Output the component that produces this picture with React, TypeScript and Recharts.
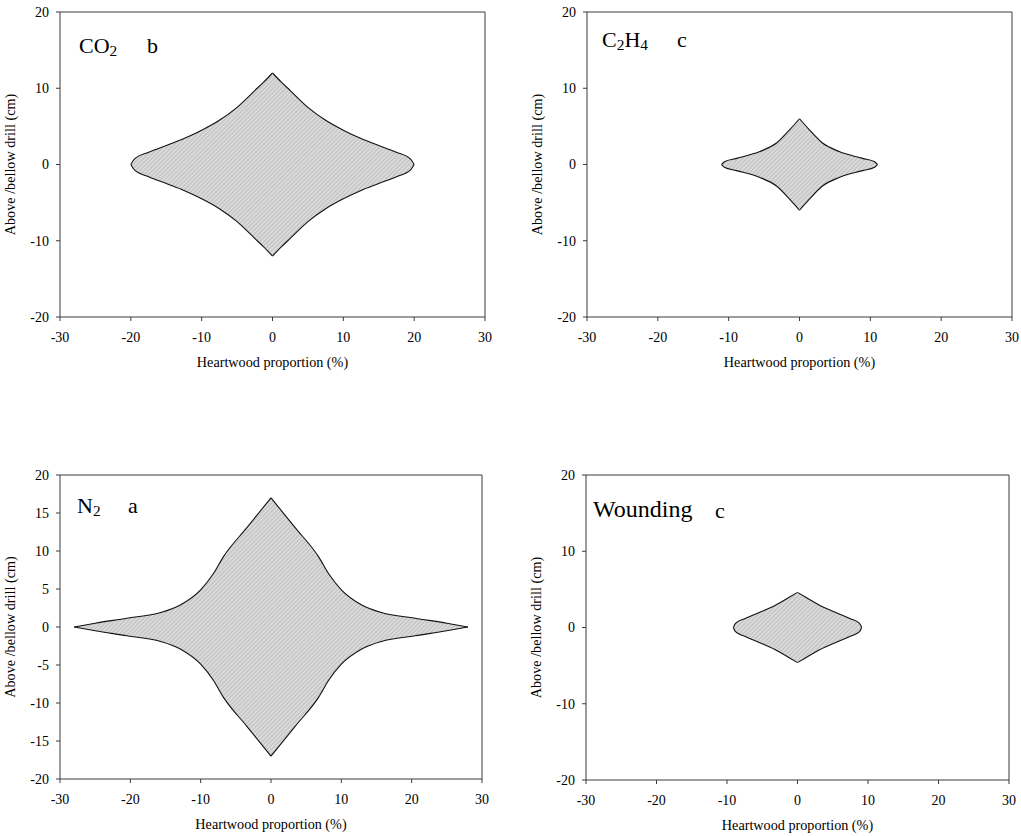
import { ComposedChart, Area, XAxis, YAxis, ReferenceLine } from 'recharts'

const xTicks = [-30, -20, -10, 0, 10, 20, 30]
const yTicks = [-20, -10, 0, 10, 20]
const yTicksN2 = [-20, -15, -10, -5, 0, 5, 10, 15, 20]
const xLabel = 'Heartwood proportion (%)'
const yLabel = 'Above /bellow drill (cm)'

const panelTitles = ['CO2', 'C2H4', 'N2', 'Wounding']
const panelLetters = ['b', 'c', 'a', 'c']

// heartwood proportion (%) and half height of the shaded zone (cm)
const co2X = [-20, -19.5, -17.5, -15, -12.5, -10, -7.5, -5, -2.5, -1.25, 0, 1.25, 2.5, 5, 7.5, 10, 12.5, 15, 17.5, 19.5, 20]
const co2H = [0, 0.7, 1.6, 2.5, 3.4, 4.5, 5.8, 7.5, 9.7, 10.8, 12, 10.8, 9.7, 7.5, 5.8, 4.5, 3.4, 2.5, 1.6, 0.7, 0]

const c2h4X = [-11, -10.6, -8.9, -5.6, -3.2, -1.3, 0, 1.3, 3.2, 5.6, 8.9, 10.6, 11]
const c2h4H = [0, 0.35, 0.8, 1.7, 2.85, 4.65, 6, 4.65, 2.85, 1.7, 0.8, 0.35, 0]

const n2X = [-28, -25, -20.5, -15.7, -12.9, -10, -8.2, -6.8, -3.4, 0, 3.4, 6.8, 8.2, 10, 12.9, 15.7, 20.5, 25, 28]
const n2H = [0, 0.5, 1.15, 1.9, 2.9, 4.9, 7.0, 9.2, 13.1, 17, 13.1, 9.2, 7.0, 4.9, 2.9, 1.9, 1.15, 0.5, 0]

const woundX = [-9.1, -8.8, -7.5, -5.6, -3.2, -1.3, 0, 1.3, 3.2, 5.6, 7.5, 8.8, 9.1]
const woundH = [0, 0.55, 1.15, 1.9, 2.9, 3.9, 4.6, 3.9, 2.9, 1.9, 1.15, 0.55, 0]

const FONT = "'Liberation Serif', 'Times New Roman', serif"
const AXIS = '#3a3a3a'

function halves(xs: number[], hs: number[]) {
  const rows = xs.map((x, i) => ({ x, band: [-hs[i], hs[i]] }))
  return [rows.filter(r => r.x <= 0), rows.filter(r => r.x >= 0)]
}

interface PanelProps {
  id: string
  xs: number[]
  hs: number[]
  ticksY: number[]
  left: number
  top: number
  width: number
  height: number
  margin: { top: number; right: number; bottom: number; left: number }
}

function Panel({ id, xs, hs, ticksY, left, top, width, height, margin }: PanelProps) {
  const [leftHalf, rightHalf] = halves(xs, hs)
  const peak = hs[xs.indexOf(0)]
  const tick = { fill: '#000', fontSize: 14, fontFamily: FONT }
  const hatch = `url(#hatch-${id})`
  return (
    <div style={{ position: 'absolute', left, top }}>
      <ComposedChart width={width} height={height} margin={margin}>
        <defs>
          <pattern id={`hatch-${id}`} width="3" height="3" patternUnits="userSpaceOnUse" patternTransform="rotate(45)">
            <rect width="3" height="3" fill="#dadada" />
            <line x1="0" y1="0" x2="0" y2="3" stroke="#a4a4a4" strokeWidth="1" />
          </pattern>
        </defs>
        <XAxis
          type="number" dataKey="x" domain={[-30, 30]} ticks={xTicks} interval={0}
          height={55} tickSize={4} tickMargin={11} tick={tick}
          axisLine={{ stroke: AXIS }} tickLine={{ stroke: AXIS }}
          label={{ value: xLabel, position: 'insideBottom', offset: 5, fill: '#000', fontSize: 14.2, fontFamily: FONT }}
        />
        <YAxis
          type="number" domain={[-20, 20]} ticks={ticksY} interval={0}
          width={60} tickSize={4} tickMargin={7} tick={tick}
          axisLine={{ stroke: AXIS }} tickLine={{ stroke: AXIS }}
          label={{ value: yLabel, angle: -90, position: 'insideLeft', offset: 10, fill: '#000', fontSize: 14.2, fontFamily: FONT, style: { textAnchor: 'middle' } }}
        />
        <ReferenceLine y={20} stroke={AXIS} />
        <ReferenceLine x={30} stroke={AXIS} />
        <ReferenceLine segment={[{ x: 0, y: -peak + 0.4 }, { x: 0, y: peak - 0.4 }]} stroke={hatch} strokeWidth={2} />
        <Area data={leftHalf} type="monotone" dataKey="band" stroke="#111" strokeWidth={1.1}
          fill={hatch} fillOpacity={1} dot={false} activeDot={false} isAnimationActive={false} />
        <Area data={rightHalf} type="monotone" dataKey="band" stroke="#111" strokeWidth={1.1}
          fill={hatch} fillOpacity={1} dot={false} activeDot={false} isAnimationActive={false} />
      </ComposedChart>
    </div>
  )
}

function Title({ x, y, text, size }: { x: number; y: number; text: string; size: number }) {
  const parts = text.match(/\d+|\D+/g) || []
  return (
    <text x={x} y={y} fontSize={size} fontFamily={FONT} fill="#000">
      {parts.map((p, i) =>
        /\d/.test(p)
          ? <tspan key={i} fontSize={size * 0.7} dy={3}>{p}</tspan>
          : <tspan key={i} dy={i > 0 ? -3 : 0}>{p}</tspan>
      )}
    </text>
  )
}

export default function App() {
  return (
    <div style={{ position: 'absolute', left: 0, top: 0, width: 1021, height: 836, background: '#fff', fontFamily: FONT }}>
      <Panel id="co2" xs={co2X} hs={co2H} ticksY={yTicks} left={0} top={0} width={510} height={400}
        margin={{ top: 12, right: 25, bottom: 28, left: 0 }} />
      <Panel id="c2h4" xs={c2h4X} hs={c2h4H} ticksY={yTicks} left={527} top={0} width={494} height={400}
        margin={{ top: 12, right: 9, bottom: 28, left: 0 }} />
      <Panel id="n2" xs={n2X} hs={n2H} ticksY={yTicksN2} left={0} top={460} width={510} height={376}
        margin={{ top: 15, right: 28, bottom: 2, left: 0 }} />
      <Panel id="wound" xs={woundX} hs={woundH} ticksY={yTicks} left={526} top={460} width={495} height={376}
        margin={{ top: 15, right: 12, bottom: 1, left: 0 }} />
      <svg width={1021} height={836} style={{ position: 'absolute', left: 0, top: 0, pointerEvents: 'none' }}>
        <Title x={79} y={53} text={panelTitles[0]} size={22} />
        <Title x={147} y={53} text={panelLetters[0]} size={22} />
        <Title x={602} y={47} text={panelTitles[1]} size={22} />
        <Title x={677} y={47} text={panelLetters[1]} size={22} />
        <Title x={77} y={513} text={panelTitles[2]} size={22} />
        <Title x={128} y={513} text={panelLetters[2]} size={22} />
        <Title x={593} y={517} text={panelTitles[3]} size={24} />
        <Title x={715} y={518} text={panelLetters[3]} size={22} />
      </svg>
    </div>
  )
}
